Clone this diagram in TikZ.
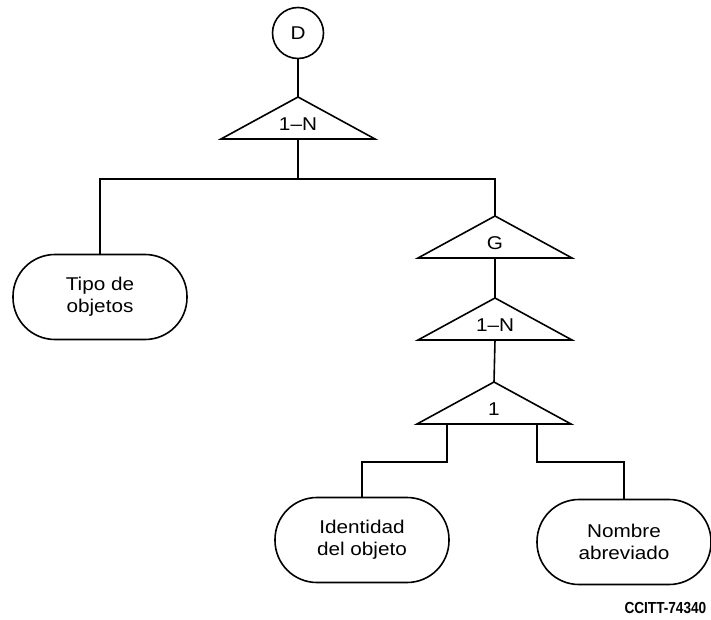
\documentclass[tikz,border=0pt]{standalone}
\usepackage{fontspec}
\setmainfont{Liberation Sans}[FakeStretch=1.12]
\newfontfamily\codefont{Liberation Sans}[FakeStretch=0.85]
\begin{document}
\begin{tikzpicture}[x=1pt,y=-1pt,
  every path/.style={line width=1.6pt},
  lbl/.style={font=\fontsize{18.5}{22}\selectfont, inner sep=0pt},
  entity/.style={draw, line width=1.6pt, rounded corners=42pt,
    minimum width=174pt, minimum height=85pt, align=center,
    font=\fontsize{18.5}{22}\selectfont},
  selector/.style={draw, circle, line width=1.6pt, minimum size=51pt,
    inner sep=0pt, font=\fontsize{18.5}{22}\selectfont},
  tri/.pic={
    \draw[line join=miter] (0,0) -- (-77,42) -- (77,42) -- cycle;
    \coordinate (-apex) at (0,0);
    \coordinate (-base) at (0,42);
    \node[lbl] (-text) at (0,27) {#1};
  }]
\useasboundingbox (0,0) rectangle (711,620);

% root selector and first repetition
\node[selector] (d) at (298,33) {D};
\pic (t1) at (298,97) {tri={1--N}};

% left branch: object type
\node[entity] (tipo) at (100,297) {Tipo de\\objetos};

% right branch: group, repetition, choice
\pic (t2) at (495,216) {tri={G}};
\pic (t3) at (495,298) {tri={1--N}};
\pic (t4) at (494,382) {tri={1}};

% leaves of the choice
\node[entity] (ident) at (362,540) {Identidad\\del objeto};
\node[entity] (nombre) at (624,542) {Nombre\\abreviado};

% connectors
\draw (d.south) -- (t1-apex);
\draw (t1-base) -- ++(0,40) coordinate (j1);
\draw (tipo.north) |- (j1) -| (t2-apex);
\draw (t2-base) -- (t3-apex);
\draw (t3-base) -- (t4-apex);
\draw ([xshift=-47pt]t4-base) -- ++(0,38) -| (ident.north);
\draw ([xshift=43pt]t4-base) -- ++(0,38) -| (nombre.north);

% figure reference
\node[anchor=base east, inner sep=0pt, font=\codefont\bfseries\fontsize{16}{18}\selectfont]
  (ref) at (707,613) {CCITT-74340};
\end{tikzpicture}
\end{document}
